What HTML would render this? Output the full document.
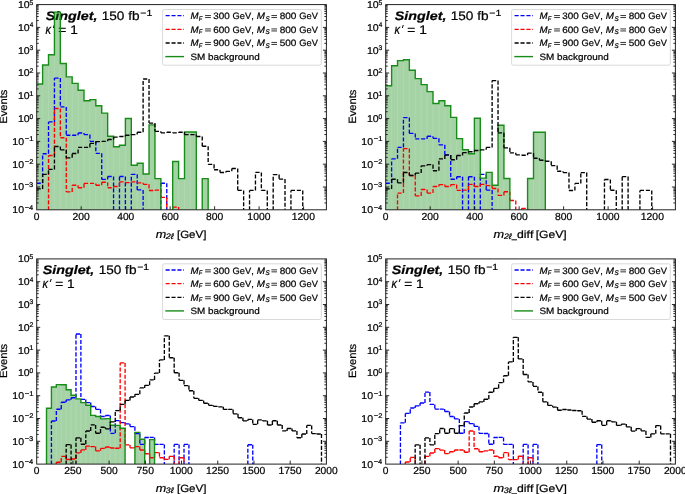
<!DOCTYPE html>
<html><head><meta charset="utf-8"><style>html,body{margin:0;padding:0;background:#fff;}body{width:685px;height:494px;overflow:hidden;font-family:"Liberation Sans",sans-serif;}svg{display:block;}text{stroke:#000;stroke-width:0.22px;text-rendering:geometricPrecision;}</style></head><body>
<svg width="685" height="494" viewBox="0 0 685 494" font-family="Liberation Sans, sans-serif" fill="#000" style="font-kerning:none;will-change:transform">
<text x="45.83" y="19.6" font-size="12.3" font-style="italic" font-weight="bold" textLength="51.6" lengthAdjust="spacingAndGlyphs">Singlet,</text>
<text x="101.76" y="19.7" font-size="12.4" textLength="37.81" lengthAdjust="spacingAndGlyphs">150 fb</text>
<text x="140.38" y="15.6" font-size="8.8" textLength="11.93" lengthAdjust="spacingAndGlyphs">−1</text>
<text x="45.62" y="34" font-size="13.3" font-style="italic" textLength="5.52" lengthAdjust="spacingAndGlyphs">κ</text>
<path d="M54.3,25L53.3,28" stroke="#000" stroke-width="1"/>
<text x="58.33" y="34" font-size="12.4" textLength="19.44" lengthAdjust="spacingAndGlyphs">= 1</text>
<clipPath id="cTL"><rect x="36.7" y="4.6" width="289.7" height="205.2"/></clipPath>
<g clip-path="url(#cTL)">
<path d="M36.7,211.8H42.61V84H36.7ZM42.61,211.8H48.52V65H42.61ZM48.52,211.8H54.44V54.8H48.52ZM54.44,211.8H60.35V12.1H54.44ZM60.35,211.8H66.26V63.5H60.35ZM66.26,211.8H72.17V76.9H66.26ZM72.17,211.8H78.09V83.4H72.17ZM78.09,211.8H84V90.2H78.09ZM84,211.8H89.91V100.7H84ZM89.91,211.8H95.82V99.6H89.91ZM95.82,211.8H101.73V105.7H95.82ZM101.73,211.8H107.65V113.1H101.73ZM107.65,211.8H113.56V136.2H107.65ZM113.56,211.8H119.47V146.8H113.56ZM119.47,211.8H125.38V145.3H119.47ZM125.38,211.8H131.3V118.5H125.38ZM131.3,211.8H137.21V165.2H131.3ZM137.21,211.8H143.12V163.2H137.21ZM143.12,211.8H149.03V174H143.12ZM149.03,211.8H154.94V124.9H149.03ZM154.94,211.8H160.86V178.6H154.94ZM172.68,211.8H178.59V161.5H172.68ZM178.59,211.8H184.51V178.6H178.59ZM184.51,211.8H190.42V132H184.51ZM190.42,211.8H196.33V132H190.42ZM202.24,211.8H208.16V178.6H202.24Z" fill="#008000" fill-opacity="0.35"/>
<path d="M42.61,209.8V85M48.52,209.8V66M54.44,209.8V55.8M60.35,209.8V64.5M66.26,209.8V77.9M72.17,209.8V84.4M78.09,209.8V91.2M84,209.8V101.7M89.91,209.8V101.7M95.82,209.8V106.7M101.73,209.8V114.1M107.65,209.8V137.2M113.56,209.8V147.8M119.47,209.8V147.8M125.38,209.8V146.3M131.3,209.8V166.2M137.21,209.8V166.2M143.12,209.8V175M149.03,209.8V175M154.94,209.8V179.6M178.59,209.8V179.6M184.51,209.8V179.6M190.42,209.8V133" stroke="#fff" stroke-opacity="0.13" stroke-width="0.8" fill="none"/>
<path d="M36.7,183.2H42.61M42.61,183.2V153.7M42.61,153.7H48.52M48.52,153.7V121.9M48.52,121.9H54.44M54.44,121.9V78.1M54.44,78.1H60.35M60.35,78.1V106.9M60.35,106.9H66.26M66.26,106.9V135.2M66.26,135.2H72.17M72.17,135.2H78.09M78.09,135.2V133M78.09,133H84M84,133V134.6M84,134.6H89.91M89.91,134.6V141.3M89.91,141.3H95.82M95.82,141.3V153.3M95.82,153.3H101.73M101.73,153.3V179.4M101.73,179.4H107.65M107.65,179.4V176.5M107.65,176.5H113.56M113.56,176.5V210.3M119.47,210.3V176.5M119.47,176.5H125.38M125.38,176.5V210.3M131.3,210.3V174.3M131.3,174.3H137.21M137.21,174.3V189.9M137.21,189.9H143.12M143.12,189.9V210.3M160.86,210.3V183.2M160.86,183.2H166.77M166.77,183.2V210.3" fill="none" stroke="#0000ff" stroke-width="1.35" stroke-dasharray="4.1 1.8"/>
<path d="M48.52,210.3V155.5M48.52,155.5H54.44M54.44,155.5V108.5M54.44,108.5H60.35M60.35,108.5V137.7M60.35,137.7H66.26M66.26,137.7V191.9M66.26,191.9H72.17M72.17,191.9V185.2M72.17,185.2H78.09M78.09,185.2V187.7M78.09,187.7H84M84,187.7V183.4M84,183.4H89.91M89.91,183.4H95.82M95.82,183.4V185.2M95.82,185.2H101.73M101.73,185.2V182.2M101.73,182.2H107.65M107.65,182.2V187.7M107.65,187.7H113.56M113.56,187.7V186.5M113.56,186.5H119.47M119.47,186.5V181.8M119.47,181.8H125.38M125.38,181.8V182.6M125.38,182.6H131.3M131.3,182.6V181.8M131.3,181.8H137.21M137.21,181.8V182.8M137.21,182.8H143.12M143.12,182.8V184.3M143.12,184.3H149.03M149.03,184.3V190.5M149.03,190.5H154.94M154.94,190.5V190.1M154.94,190.1H160.86M160.86,190.1V197.4M160.86,197.4H166.77M166.77,197.4V210.3M172.68,210.3V207.1M172.68,207.1H178.59M178.59,207.1V210.3" fill="none" stroke="#ff0000" stroke-width="1.35" stroke-dasharray="4.1 1.8"/>
<path d="M36.7,84L36.7,84L42.61,84L42.61,65L48.52,65L48.52,54.8L54.44,54.8L54.44,12.1L60.35,12.1L60.35,63.5L66.26,63.5L66.26,76.9L72.17,76.9L72.17,83.4L78.09,83.4L78.09,90.2L84,90.2L84,100.7L89.91,100.7L89.91,99.6L95.82,99.6L95.82,105.7L101.73,105.7L101.73,113.1L107.65,113.1L107.65,136.2L113.56,136.2L113.56,146.8L119.47,146.8L119.47,145.3L125.38,145.3L125.38,118.5L131.3,118.5L131.3,165.2L137.21,165.2L137.21,163.2L143.12,163.2L143.12,174L149.03,174L149.03,124.9L154.94,124.9L154.94,178.6L160.86,178.6L160.86,212.8L166.77,212.8L166.77,212.8L172.68,212.8L172.68,161.5L178.59,161.5L178.59,178.6L184.51,178.6L184.51,132L190.42,132L190.42,132L196.33,132L196.33,212.8L202.24,212.8L202.24,178.6L208.16,178.6L208.16,212.8" fill="none" stroke="#188c18" stroke-width="1.4"/>
<path d="M36.7,188.9H42.61M42.61,188.9V174.3M42.61,174.3H48.52M48.52,174.3V169.4M48.52,169.4H54.44M54.44,169.4V146.5M54.44,146.5H60.35M60.35,146.5V149.8M60.35,149.8H66.26M66.26,149.8V157.8M66.26,157.8H72.17M72.17,157.8V153.5M72.17,153.5H78.09M78.09,153.5V147.4M78.09,147.4H84M84,147.4H89.91M89.91,147.4V143.4M89.91,143.4H95.82M95.82,143.4V141.6M95.82,141.6H101.73M101.73,141.6V141.3M101.73,141.3H107.65M107.65,141.3V139.5M107.65,139.5H113.56M113.56,139.5V137.1M113.56,137.1H119.47M119.47,137.1V136.5M119.47,136.5H125.38M125.38,136.5V135.2M125.38,135.2H131.3M131.3,135.2V134.6M131.3,134.6H137.21M137.21,134.6V132.2M137.21,132.2H143.12M143.12,132.2V79M143.12,79H149.03M149.03,79V123.1M149.03,123.1H154.94M154.94,123.1V131.3M154.94,131.3H160.86M160.86,131.3V132.8M160.86,132.8H166.77M166.77,132.8V132.2M166.77,132.2H172.68M172.68,132.2V132.8M172.68,132.8H178.59M178.59,132.8V132.2M178.59,132.2H184.51M184.51,132.2V134.6M184.51,134.6H190.42M190.42,134.6H196.33M196.33,134.6V136.5M196.33,136.5H202.24M202.24,136.5V146.2M202.24,146.2H208.16M208.16,146.2V164.3M208.16,164.3H214.07M214.07,164.3V169.7M214.07,169.7H219.98M219.98,169.7V172.5M219.98,172.5H225.89M225.89,172.5V171.3M225.89,171.3H231.8M231.8,171.3V168.5M231.8,168.5H237.72M237.72,168.5V190.4M237.72,190.4H243.63M243.63,190.4V210.3M249.54,210.3V190.4M249.54,190.4H255.45M255.45,190.4V172.4M255.45,172.4H261.37M261.37,172.4V190.4M261.37,190.4H267.28M267.28,190.4V210.3M273.19,210.3V174.6M273.19,174.6H279.1M279.1,174.6V179.1M279.1,179.1H285.01M285.01,179.1V210.3M290.93,210.3V190.4M290.93,190.4H296.84M296.84,190.4H302.75M302.75,190.4V210.3" fill="none" stroke="#000000" stroke-width="1.35" stroke-dasharray="4.1 1.8"/>
</g>
<rect x="36.7" y="4.6" width="289.7" height="205.2" fill="none" stroke="#222" stroke-width="1"/>
<path d="M36.7,20.54h2M326.4,20.54h-2M36.7,16.52h2M326.4,16.52h-2M36.7,13.67h2M326.4,13.67h-2M36.7,11.46h2M326.4,11.46h-2M36.7,9.66h2M326.4,9.66h-2M36.7,8.13h2M326.4,8.13h-2M36.7,6.81h2M326.4,6.81h-2M36.7,5.64h2M326.4,5.64h-2M36.7,27.4h3.5M326.4,27.4h-3.5M36.7,43.34h2M326.4,43.34h-2M36.7,39.32h2M326.4,39.32h-2M36.7,36.47h2M326.4,36.47h-2M36.7,34.26h2M326.4,34.26h-2M36.7,32.46h2M326.4,32.46h-2M36.7,30.93h2M326.4,30.93h-2M36.7,29.61h2M326.4,29.61h-2M36.7,28.44h2M326.4,28.44h-2M36.7,50.2h3.5M326.4,50.2h-3.5M36.7,66.14h2M326.4,66.14h-2M36.7,62.12h2M326.4,62.12h-2M36.7,59.27h2M326.4,59.27h-2M36.7,57.06h2M326.4,57.06h-2M36.7,55.26h2M326.4,55.26h-2M36.7,53.73h2M326.4,53.73h-2M36.7,52.41h2M326.4,52.41h-2M36.7,51.24h2M326.4,51.24h-2M36.7,73h3.5M326.4,73h-3.5M36.7,88.94h2M326.4,88.94h-2M36.7,84.92h2M326.4,84.92h-2M36.7,82.07h2M326.4,82.07h-2M36.7,79.86h2M326.4,79.86h-2M36.7,78.06h2M326.4,78.06h-2M36.7,76.53h2M326.4,76.53h-2M36.7,75.21h2M326.4,75.21h-2M36.7,74.04h2M326.4,74.04h-2M36.7,95.8h3.5M326.4,95.8h-3.5M36.7,111.74h2M326.4,111.74h-2M36.7,107.72h2M326.4,107.72h-2M36.7,104.87h2M326.4,104.87h-2M36.7,102.66h2M326.4,102.66h-2M36.7,100.86h2M326.4,100.86h-2M36.7,99.33h2M326.4,99.33h-2M36.7,98.01h2M326.4,98.01h-2M36.7,96.84h2M326.4,96.84h-2M36.7,118.6h3.5M326.4,118.6h-3.5M36.7,134.54h2M326.4,134.54h-2M36.7,130.52h2M326.4,130.52h-2M36.7,127.67h2M326.4,127.67h-2M36.7,125.46h2M326.4,125.46h-2M36.7,123.66h2M326.4,123.66h-2M36.7,122.13h2M326.4,122.13h-2M36.7,120.81h2M326.4,120.81h-2M36.7,119.64h2M326.4,119.64h-2M36.7,141.4h3.5M326.4,141.4h-3.5M36.7,157.34h2M326.4,157.34h-2M36.7,153.32h2M326.4,153.32h-2M36.7,150.47h2M326.4,150.47h-2M36.7,148.26h2M326.4,148.26h-2M36.7,146.46h2M326.4,146.46h-2M36.7,144.93h2M326.4,144.93h-2M36.7,143.61h2M326.4,143.61h-2M36.7,142.44h2M326.4,142.44h-2M36.7,164.2h3.5M326.4,164.2h-3.5M36.7,180.14h2M326.4,180.14h-2M36.7,176.12h2M326.4,176.12h-2M36.7,173.27h2M326.4,173.27h-2M36.7,171.06h2M326.4,171.06h-2M36.7,169.26h2M326.4,169.26h-2M36.7,167.73h2M326.4,167.73h-2M36.7,166.41h2M326.4,166.41h-2M36.7,165.24h2M326.4,165.24h-2M36.7,187h3.5M326.4,187h-3.5M36.7,202.94h2M326.4,202.94h-2M36.7,198.92h2M326.4,198.92h-2M36.7,196.07h2M326.4,196.07h-2M36.7,193.86h2M326.4,193.86h-2M36.7,192.06h2M326.4,192.06h-2M36.7,190.53h2M326.4,190.53h-2M36.7,189.21h2M326.4,189.21h-2M36.7,188.04h2M326.4,188.04h-2M81.18,209.8v-3.5M125.66,209.8v-3.5M170.14,209.8v-3.5M214.62,209.8v-3.5M259.1,209.8v-3.5M303.58,209.8v-3.5" stroke="#111" stroke-width="0.9" fill="none"/>
<text x="29.53" y="4.5" font-size="6.9" textLength="3.75" lengthAdjust="spacingAndGlyphs">5</text><text x="17.9" y="8" font-size="9.9" textLength="11.71" lengthAdjust="spacingAndGlyphs">10</text>
<text x="29.65" y="27.3" font-size="6.9" textLength="3.53" lengthAdjust="spacingAndGlyphs">4</text><text x="17.9" y="30.8" font-size="9.9" textLength="11.71" lengthAdjust="spacingAndGlyphs">10</text>
<text x="29.54" y="50.1" font-size="6.9" textLength="3.75" lengthAdjust="spacingAndGlyphs">3</text><text x="17.9" y="53.6" font-size="9.9" textLength="11.71" lengthAdjust="spacingAndGlyphs">10</text>
<text x="29.45" y="72.9" font-size="6.9" textLength="3.91" lengthAdjust="spacingAndGlyphs">2</text><text x="17.9" y="76.4" font-size="9.9" textLength="11.71" lengthAdjust="spacingAndGlyphs">10</text>
<text x="29.23" y="95.7" font-size="6.9" textLength="4.13" lengthAdjust="spacingAndGlyphs">1</text><text x="17.9" y="99.2" font-size="9.9" textLength="11.71" lengthAdjust="spacingAndGlyphs">10</text>
<text x="29.54" y="118.5" font-size="6.9" textLength="3.72" lengthAdjust="spacingAndGlyphs">0</text><text x="17.9" y="122" font-size="9.9" textLength="11.71" lengthAdjust="spacingAndGlyphs">10</text>
<text x="24.73" y="141.3" font-size="6.9" textLength="8.64" lengthAdjust="spacingAndGlyphs">−1</text><text x="12.3" y="144.8" font-size="9.9" textLength="11.71" lengthAdjust="spacingAndGlyphs">10</text>
<text x="24.73" y="164.1" font-size="6.9" textLength="8.66" lengthAdjust="spacingAndGlyphs">−2</text><text x="12.3" y="167.6" font-size="9.9" textLength="11.71" lengthAdjust="spacingAndGlyphs">10</text>
<text x="24.73" y="186.9" font-size="6.9" textLength="8.6" lengthAdjust="spacingAndGlyphs">−3</text><text x="12.3" y="190.4" font-size="9.9" textLength="11.71" lengthAdjust="spacingAndGlyphs">10</text>
<text x="24.73" y="209.7" font-size="6.9" textLength="8.49" lengthAdjust="spacingAndGlyphs">−4</text><text x="12.3" y="213.2" font-size="9.9" textLength="11.71" lengthAdjust="spacingAndGlyphs">10</text>
<text x="33.85" y="219.8" font-size="10.2" textLength="5.7" lengthAdjust="spacingAndGlyphs">0</text>
<text x="72.46" y="219.8" font-size="10.2" textLength="17.33" lengthAdjust="spacingAndGlyphs">200</text>
<text x="117.23" y="219.8" font-size="10.2" textLength="17.03" lengthAdjust="spacingAndGlyphs">400</text>
<text x="161.41" y="219.8" font-size="10.2" textLength="17.33" lengthAdjust="spacingAndGlyphs">600</text>
<text x="205.97" y="219.8" font-size="10.2" textLength="17.25" lengthAdjust="spacingAndGlyphs">800</text>
<text x="247.36" y="219.8" font-size="10.2" textLength="23.1" lengthAdjust="spacingAndGlyphs">1000</text>
<text x="291.84" y="219.8" font-size="10.2" textLength="23.1" lengthAdjust="spacingAndGlyphs">1200</text>
<text transform="rotate(-90)" x="-123.72" y="7.3" font-size="10.6" textLength="34.12" lengthAdjust="spacingAndGlyphs">Events</text>
<rect x="162.6" y="9.5" width="158.7" height="55.7" rx="1.6" fill="#fff" fill-opacity="0.8" stroke="#d0d0d0" stroke-width="0.8"/>
<path d="M165.6,15.7H184" stroke="#0000ff" stroke-width="1.3" stroke-dasharray="4.1 1.8"/>
<text x="190.5" y="19.4" font-size="9.3" font-style="italic" textLength="8.1" lengthAdjust="spacingAndGlyphs">M</text>
<text x="198.82" y="20.7" font-size="6.7" font-style="italic" textLength="3.51" lengthAdjust="spacingAndGlyphs">F</text>
<path d="M205.1,15.55H210.9M205.1,17.55H210.9" stroke="#111" stroke-width="0.85"/>
<text x="213.32" y="19.4" font-size="9.2" textLength="16.46" lengthAdjust="spacingAndGlyphs">300</text>
<text x="232.53" y="19.4" font-size="9.2" textLength="21.2" lengthAdjust="spacingAndGlyphs">GeV,</text>
<text x="256.8" y="19.4" font-size="9.3" font-style="italic" textLength="8.2" lengthAdjust="spacingAndGlyphs">M</text>
<text x="265.42" y="20.7" font-size="6.7" font-style="italic" textLength="4.14" lengthAdjust="spacingAndGlyphs">S</text>
<path d="M271.4,15.55H277M271.4,17.55H277" stroke="#111" stroke-width="0.85"/>
<text x="279.66" y="19.4" font-size="9.2" textLength="16.73" lengthAdjust="spacingAndGlyphs">800</text>
<text x="299.33" y="19.4" font-size="9.2" textLength="18.61" lengthAdjust="spacingAndGlyphs">GeV</text>
<path d="M165.6,29.3H184" stroke="#ff0000" stroke-width="1.3" stroke-dasharray="4.1 1.8"/>
<text x="190.5" y="32.8" font-size="9.3" font-style="italic" textLength="8.1" lengthAdjust="spacingAndGlyphs">M</text>
<text x="198.82" y="34.1" font-size="6.7" font-style="italic" textLength="3.51" lengthAdjust="spacingAndGlyphs">F</text>
<path d="M205.1,28.95H210.9M205.1,30.95H210.9" stroke="#111" stroke-width="0.85"/>
<text x="213.19" y="32.8" font-size="9.2" textLength="16.59" lengthAdjust="spacingAndGlyphs">600</text>
<text x="232.53" y="32.8" font-size="9.2" textLength="21.2" lengthAdjust="spacingAndGlyphs">GeV,</text>
<text x="256.8" y="32.8" font-size="9.3" font-style="italic" textLength="8.2" lengthAdjust="spacingAndGlyphs">M</text>
<text x="265.42" y="34.1" font-size="6.7" font-style="italic" textLength="4.14" lengthAdjust="spacingAndGlyphs">S</text>
<path d="M271.4,28.95H277M271.4,30.95H277" stroke="#111" stroke-width="0.85"/>
<text x="279.66" y="32.8" font-size="9.2" textLength="16.73" lengthAdjust="spacingAndGlyphs">800</text>
<text x="299.33" y="32.8" font-size="9.2" textLength="18.61" lengthAdjust="spacingAndGlyphs">GeV</text>
<path d="M165.6,43H184" stroke="#000000" stroke-width="1.3" stroke-dasharray="4.1 1.8"/>
<text x="190.5" y="46.3" font-size="9.3" font-style="italic" textLength="8.1" lengthAdjust="spacingAndGlyphs">M</text>
<text x="198.82" y="47.6" font-size="6.7" font-style="italic" textLength="3.51" lengthAdjust="spacingAndGlyphs">F</text>
<path d="M205.1,42.45H210.9M205.1,44.45H210.9" stroke="#111" stroke-width="0.85"/>
<text x="213.23" y="46.3" font-size="9.2" textLength="16.55" lengthAdjust="spacingAndGlyphs">900</text>
<text x="232.53" y="46.3" font-size="9.2" textLength="21.2" lengthAdjust="spacingAndGlyphs">GeV,</text>
<text x="256.8" y="46.3" font-size="9.3" font-style="italic" textLength="8.2" lengthAdjust="spacingAndGlyphs">M</text>
<text x="265.42" y="47.6" font-size="6.7" font-style="italic" textLength="4.14" lengthAdjust="spacingAndGlyphs">S</text>
<path d="M271.4,42.45H277M271.4,44.45H277" stroke="#111" stroke-width="0.85"/>
<text x="279.7" y="46.3" font-size="9.2" textLength="16.69" lengthAdjust="spacingAndGlyphs">500</text>
<text x="299.33" y="46.3" font-size="9.2" textLength="18.61" lengthAdjust="spacingAndGlyphs">GeV</text>
<path d="M165.3,56.6H184" stroke="#188c18" stroke-width="1.4"/>
<text x="190.45" y="59.6" font-size="9.2" textLength="69.39" lengthAdjust="spacingAndGlyphs">SM background</text>
<text x="155.89" y="237.8" font-size="11.2" font-style="italic" textLength="10.49" lengthAdjust="spacingAndGlyphs">m</text><text x="165.85" y="239.2" font-size="8" font-style="italic" textLength="7.93" lengthAdjust="spacingAndGlyphs">2ℓ</text><text x="176.98" y="237.8" font-size="10.5" textLength="29.44" lengthAdjust="spacingAndGlyphs">[GeV]</text>
<text x="394.83" y="19.6" font-size="12.3" font-style="italic" font-weight="bold" textLength="51.6" lengthAdjust="spacingAndGlyphs">Singlet,</text>
<text x="450.76" y="19.7" font-size="12.4" textLength="37.81" lengthAdjust="spacingAndGlyphs">150 fb</text>
<text x="489.38" y="15.6" font-size="8.8" textLength="11.93" lengthAdjust="spacingAndGlyphs">−1</text>
<text x="394.62" y="34" font-size="13.3" font-style="italic" textLength="5.52" lengthAdjust="spacingAndGlyphs">κ</text>
<path d="M403.3,25L402.3,28" stroke="#000" stroke-width="1"/>
<text x="407.33" y="34" font-size="12.4" textLength="19.44" lengthAdjust="spacingAndGlyphs">= 1</text>
<clipPath id="cTR"><rect x="385.7" y="4.6" width="289.7" height="205.2"/></clipPath>
<g clip-path="url(#cTR)">
<path d="M385.7,211.8H391.61V85.8H385.7ZM391.61,211.8H397.52V65.8H391.61ZM397.52,211.8H403.44V60.6H397.52ZM403.44,211.8H409.35V59.7H403.44ZM409.35,211.8H415.26V70.3H409.35ZM415.26,211.8H421.17V78.6H415.26ZM421.17,211.8H427.09V84.6H421.17ZM427.09,211.8H433V91.6H427.09ZM433,211.8H438.91V103.5H433ZM438.91,211.8H444.82V100.7H438.91ZM444.82,211.8H450.73V105.7H444.82ZM450.73,211.8H456.65V117.4H450.73ZM456.65,211.8H462.56V138.6H456.65ZM462.56,211.8H468.47V149.8H462.56ZM468.47,211.8H474.38V153.8H468.47ZM474.38,211.8H480.3V118.2H474.38ZM480.3,211.8H486.21V178.1H480.3ZM486.21,211.8H492.12V172.4H486.21ZM492.12,211.8H498.03V185.2H492.12ZM498.03,211.8H503.94V125.3H498.03ZM503.94,211.8H509.86V178.5H503.94ZM527.59,211.8H533.51V178.5H527.59ZM533.51,211.8H539.42V132.2H533.51ZM539.42,211.8H545.33V132.2H539.42Z" fill="#008000" fill-opacity="0.35"/>
<path d="M391.61,209.8V86.8M397.52,209.8V66.8M403.44,209.8V61.6M409.35,209.8V71.3M415.26,209.8V79.6M421.17,209.8V85.6M427.09,209.8V92.6M433,209.8V104.5M438.91,209.8V104.5M444.82,209.8V106.7M450.73,209.8V118.4M456.65,209.8V139.6M462.56,209.8V150.8M468.47,209.8V154.8M474.38,209.8V154.8M480.3,209.8V179.1M486.21,209.8V179.1M492.12,209.8V186.2M498.03,209.8V186.2M503.94,209.8V179.5M533.51,209.8V179.5M539.42,209.8V133.2" stroke="#fff" stroke-opacity="0.13" stroke-width="0.8" fill="none"/>
<path d="M385.7,183.2H391.61M391.61,183.2V158.8M391.61,158.8H397.52M397.52,158.8V147.4M397.52,147.4H403.44M403.44,147.4V117.6M403.44,117.6H409.35M409.35,117.6V133.4M409.35,133.4H415.26M415.26,133.4V138.9M415.26,138.9H421.17M421.17,138.9H427.09M427.09,138.9V136.2M427.09,136.2H433M433,136.2V138.3M433,138.3H438.91M438.91,138.3V144.8M438.91,144.8H444.82M444.82,144.8V155.1M444.82,155.1H450.73M450.73,155.1V179.2M450.73,179.2H456.65M456.65,179.2V176.7M456.65,176.7H462.56M462.56,176.7V210.3M468.47,210.3V176.7M468.47,176.7H474.38M474.38,176.7V210.3M480.3,210.3V174.3M480.3,174.3H486.21M486.21,174.3V190.1M486.21,190.1H492.12M492.12,190.1V210.3" fill="none" stroke="#0000ff" stroke-width="1.35" stroke-dasharray="4.1 1.8"/>
<path d="M397.52,210.3V193.1M397.52,193.1H403.44M403.44,193.1V148.6M403.44,148.6H409.35M409.35,148.6V175.5M409.35,175.5H415.26M415.26,175.5V195.9M415.26,195.9H421.17M421.17,195.9V189.5M421.17,189.5H427.09M427.09,189.5V193.1M427.09,193.1H433M433,193.1V186.5M433,186.5H438.91M438.91,186.5V184.6M438.91,184.6H444.82M444.82,184.6V186.5M444.82,186.5H450.73M450.73,186.5V184.6M450.73,184.6H456.65M456.65,184.6V190.3M456.65,190.3H462.56M462.56,190.3V190.1M462.56,190.1H468.47M468.47,190.1V184.4M468.47,184.4H474.38M474.38,184.4V186.5M474.38,186.5H480.3M480.3,186.5V184.4M480.3,184.4H486.21M486.21,184.4V185.6M486.21,185.6H492.12M492.12,185.6V188.5M492.12,188.5H498.03M498.03,188.5V195.4M498.03,195.4H503.94M503.94,195.4V191.7M503.94,191.7H509.86M509.86,191.7V200.5M509.86,200.5H515.77M515.77,200.5V210.3M521.68,210.3V208.3M521.68,208.3H527.59M527.59,208.3V210.3" fill="none" stroke="#ff0000" stroke-width="1.35" stroke-dasharray="4.1 1.8"/>
<path d="M385.7,85.8L385.7,85.8L391.61,85.8L391.61,65.8L397.52,65.8L397.52,60.6L403.44,60.6L403.44,59.7L409.35,59.7L409.35,70.3L415.26,70.3L415.26,78.6L421.17,78.6L421.17,84.6L427.09,84.6L427.09,91.6L433,91.6L433,103.5L438.91,103.5L438.91,100.7L444.82,100.7L444.82,105.7L450.73,105.7L450.73,117.4L456.65,117.4L456.65,138.6L462.56,138.6L462.56,149.8L468.47,149.8L468.47,153.8L474.38,153.8L474.38,118.2L480.3,118.2L480.3,178.1L486.21,178.1L486.21,172.4L492.12,172.4L492.12,185.2L498.03,185.2L498.03,125.3L503.94,125.3L503.94,178.5L509.86,178.5L509.86,212.8L515.77,212.8L515.77,212.8L521.68,212.8L521.68,212.8L527.59,212.8L527.59,178.5L533.51,178.5L533.51,132.2L539.42,132.2L539.42,132.2L545.33,132.2L545.33,212.8" fill="none" stroke="#188c18" stroke-width="1.4"/>
<path d="M385.7,188.9H391.61M391.61,188.9V179.2M391.61,179.2H397.52M397.52,179.2V182.8M397.52,182.8H403.44M403.44,182.8V172.5M403.44,172.5H409.35M409.35,172.5V175.5M409.35,175.5H415.26M415.26,175.5V173.1M415.26,173.1H421.17M421.17,173.1V165.8M421.17,165.8H427.09M427.09,165.8V164.6M427.09,164.6H433M433,164.6V170.7M433,170.7H438.91M438.91,170.7V158.9M438.91,158.9H444.82M444.82,158.9V154.9M444.82,154.9H450.73M450.73,154.9V159.7M450.73,159.7H456.65M456.65,159.7V155.5M456.65,155.5H462.56M462.56,155.5V152.6M462.56,152.6H468.47M468.47,152.6V151.7M468.47,151.7H474.38M474.38,151.7V150.5M474.38,150.5H480.3M480.3,150.5V149.8M480.3,149.8H486.21M486.21,149.8V147.4M486.21,147.4H492.12M492.12,147.4V80.6M492.12,80.6H498.03M498.03,80.6V132.8M498.03,132.8H503.94M503.94,132.8V147.8M503.94,147.8H509.86M509.86,147.8V152.8M509.86,152.8H515.77M515.77,152.8V154.8M515.77,154.8H521.68M521.68,154.8V155.2M521.68,155.2H527.59M527.59,155.2V153.1M527.59,153.1H533.51M533.51,153.1V158.2M533.51,158.2H539.42M539.42,158.2V160.2M539.42,160.2H545.33M545.33,160.2V161.2M545.33,161.2H551.24M551.24,161.2V165.6M551.24,165.6H557.16M557.16,165.6V171.2M557.16,171.2H563.07M563.07,171.2V172.6M563.07,172.6H568.98M568.98,172.6V190.5M568.98,190.5H574.89M574.89,190.5V183.4M574.89,183.4H580.8M580.8,183.4V172.6M580.8,172.6H586.72M586.72,172.6V210.3M604.45,210.3V179.5M604.45,179.5H610.37M610.37,179.5V190.2M610.37,190.2H616.28M616.28,190.2V210.3M622.19,210.3V176.6M622.19,176.6H628.1M628.1,176.6V210.3M639.93,210.3V190.4M639.93,190.4H645.84M645.84,190.4H651.75M651.75,190.4V210.3" fill="none" stroke="#000000" stroke-width="1.35" stroke-dasharray="4.1 1.8"/>
</g>
<rect x="385.7" y="4.6" width="289.7" height="205.2" fill="none" stroke="#222" stroke-width="1"/>
<path d="M385.7,20.54h2M675.4,20.54h-2M385.7,16.52h2M675.4,16.52h-2M385.7,13.67h2M675.4,13.67h-2M385.7,11.46h2M675.4,11.46h-2M385.7,9.66h2M675.4,9.66h-2M385.7,8.13h2M675.4,8.13h-2M385.7,6.81h2M675.4,6.81h-2M385.7,5.64h2M675.4,5.64h-2M385.7,27.4h3.5M675.4,27.4h-3.5M385.7,43.34h2M675.4,43.34h-2M385.7,39.32h2M675.4,39.32h-2M385.7,36.47h2M675.4,36.47h-2M385.7,34.26h2M675.4,34.26h-2M385.7,32.46h2M675.4,32.46h-2M385.7,30.93h2M675.4,30.93h-2M385.7,29.61h2M675.4,29.61h-2M385.7,28.44h2M675.4,28.44h-2M385.7,50.2h3.5M675.4,50.2h-3.5M385.7,66.14h2M675.4,66.14h-2M385.7,62.12h2M675.4,62.12h-2M385.7,59.27h2M675.4,59.27h-2M385.7,57.06h2M675.4,57.06h-2M385.7,55.26h2M675.4,55.26h-2M385.7,53.73h2M675.4,53.73h-2M385.7,52.41h2M675.4,52.41h-2M385.7,51.24h2M675.4,51.24h-2M385.7,73h3.5M675.4,73h-3.5M385.7,88.94h2M675.4,88.94h-2M385.7,84.92h2M675.4,84.92h-2M385.7,82.07h2M675.4,82.07h-2M385.7,79.86h2M675.4,79.86h-2M385.7,78.06h2M675.4,78.06h-2M385.7,76.53h2M675.4,76.53h-2M385.7,75.21h2M675.4,75.21h-2M385.7,74.04h2M675.4,74.04h-2M385.7,95.8h3.5M675.4,95.8h-3.5M385.7,111.74h2M675.4,111.74h-2M385.7,107.72h2M675.4,107.72h-2M385.7,104.87h2M675.4,104.87h-2M385.7,102.66h2M675.4,102.66h-2M385.7,100.86h2M675.4,100.86h-2M385.7,99.33h2M675.4,99.33h-2M385.7,98.01h2M675.4,98.01h-2M385.7,96.84h2M675.4,96.84h-2M385.7,118.6h3.5M675.4,118.6h-3.5M385.7,134.54h2M675.4,134.54h-2M385.7,130.52h2M675.4,130.52h-2M385.7,127.67h2M675.4,127.67h-2M385.7,125.46h2M675.4,125.46h-2M385.7,123.66h2M675.4,123.66h-2M385.7,122.13h2M675.4,122.13h-2M385.7,120.81h2M675.4,120.81h-2M385.7,119.64h2M675.4,119.64h-2M385.7,141.4h3.5M675.4,141.4h-3.5M385.7,157.34h2M675.4,157.34h-2M385.7,153.32h2M675.4,153.32h-2M385.7,150.47h2M675.4,150.47h-2M385.7,148.26h2M675.4,148.26h-2M385.7,146.46h2M675.4,146.46h-2M385.7,144.93h2M675.4,144.93h-2M385.7,143.61h2M675.4,143.61h-2M385.7,142.44h2M675.4,142.44h-2M385.7,164.2h3.5M675.4,164.2h-3.5M385.7,180.14h2M675.4,180.14h-2M385.7,176.12h2M675.4,176.12h-2M385.7,173.27h2M675.4,173.27h-2M385.7,171.06h2M675.4,171.06h-2M385.7,169.26h2M675.4,169.26h-2M385.7,167.73h2M675.4,167.73h-2M385.7,166.41h2M675.4,166.41h-2M385.7,165.24h2M675.4,165.24h-2M385.7,187h3.5M675.4,187h-3.5M385.7,202.94h2M675.4,202.94h-2M385.7,198.92h2M675.4,198.92h-2M385.7,196.07h2M675.4,196.07h-2M385.7,193.86h2M675.4,193.86h-2M385.7,192.06h2M675.4,192.06h-2M385.7,190.53h2M675.4,190.53h-2M385.7,189.21h2M675.4,189.21h-2M385.7,188.04h2M675.4,188.04h-2M430.18,209.8v-3.5M474.66,209.8v-3.5M519.14,209.8v-3.5M563.62,209.8v-3.5M608.1,209.8v-3.5M652.58,209.8v-3.5" stroke="#111" stroke-width="0.9" fill="none"/>
<text x="378.53" y="4.5" font-size="6.9" textLength="3.75" lengthAdjust="spacingAndGlyphs">5</text><text x="366.9" y="8" font-size="9.9" textLength="11.71" lengthAdjust="spacingAndGlyphs">10</text>
<text x="378.65" y="27.3" font-size="6.9" textLength="3.53" lengthAdjust="spacingAndGlyphs">4</text><text x="366.9" y="30.8" font-size="9.9" textLength="11.71" lengthAdjust="spacingAndGlyphs">10</text>
<text x="378.54" y="50.1" font-size="6.9" textLength="3.75" lengthAdjust="spacingAndGlyphs">3</text><text x="366.9" y="53.6" font-size="9.9" textLength="11.71" lengthAdjust="spacingAndGlyphs">10</text>
<text x="378.45" y="72.9" font-size="6.9" textLength="3.91" lengthAdjust="spacingAndGlyphs">2</text><text x="366.9" y="76.4" font-size="9.9" textLength="11.71" lengthAdjust="spacingAndGlyphs">10</text>
<text x="378.23" y="95.7" font-size="6.9" textLength="4.13" lengthAdjust="spacingAndGlyphs">1</text><text x="366.9" y="99.2" font-size="9.9" textLength="11.71" lengthAdjust="spacingAndGlyphs">10</text>
<text x="378.54" y="118.5" font-size="6.9" textLength="3.72" lengthAdjust="spacingAndGlyphs">0</text><text x="366.9" y="122" font-size="9.9" textLength="11.71" lengthAdjust="spacingAndGlyphs">10</text>
<text x="373.73" y="141.3" font-size="6.9" textLength="8.64" lengthAdjust="spacingAndGlyphs">−1</text><text x="361.3" y="144.8" font-size="9.9" textLength="11.71" lengthAdjust="spacingAndGlyphs">10</text>
<text x="373.73" y="164.1" font-size="6.9" textLength="8.66" lengthAdjust="spacingAndGlyphs">−2</text><text x="361.3" y="167.6" font-size="9.9" textLength="11.71" lengthAdjust="spacingAndGlyphs">10</text>
<text x="373.73" y="186.9" font-size="6.9" textLength="8.6" lengthAdjust="spacingAndGlyphs">−3</text><text x="361.3" y="190.4" font-size="9.9" textLength="11.71" lengthAdjust="spacingAndGlyphs">10</text>
<text x="373.73" y="209.7" font-size="6.9" textLength="8.49" lengthAdjust="spacingAndGlyphs">−4</text><text x="361.3" y="213.2" font-size="9.9" textLength="11.71" lengthAdjust="spacingAndGlyphs">10</text>
<text x="382.85" y="219.8" font-size="10.2" textLength="5.7" lengthAdjust="spacingAndGlyphs">0</text>
<text x="421.46" y="219.8" font-size="10.2" textLength="17.33" lengthAdjust="spacingAndGlyphs">200</text>
<text x="466.23" y="219.8" font-size="10.2" textLength="17.03" lengthAdjust="spacingAndGlyphs">400</text>
<text x="510.41" y="219.8" font-size="10.2" textLength="17.33" lengthAdjust="spacingAndGlyphs">600</text>
<text x="554.97" y="219.8" font-size="10.2" textLength="17.25" lengthAdjust="spacingAndGlyphs">800</text>
<text x="596.36" y="219.8" font-size="10.2" textLength="23.1" lengthAdjust="spacingAndGlyphs">1000</text>
<text x="640.84" y="219.8" font-size="10.2" textLength="23.1" lengthAdjust="spacingAndGlyphs">1200</text>
<text transform="rotate(-90)" x="-123.72" y="356.3" font-size="10.6" textLength="34.12" lengthAdjust="spacingAndGlyphs">Events</text>
<rect x="511.6" y="9.5" width="158.7" height="55.7" rx="1.6" fill="#fff" fill-opacity="0.8" stroke="#d0d0d0" stroke-width="0.8"/>
<path d="M514.6,15.7H533" stroke="#0000ff" stroke-width="1.3" stroke-dasharray="4.1 1.8"/>
<text x="539.5" y="19.4" font-size="9.3" font-style="italic" textLength="8.1" lengthAdjust="spacingAndGlyphs">M</text>
<text x="547.82" y="20.7" font-size="6.7" font-style="italic" textLength="3.51" lengthAdjust="spacingAndGlyphs">F</text>
<path d="M554.1,15.55H559.9M554.1,17.55H559.9" stroke="#111" stroke-width="0.85"/>
<text x="562.32" y="19.4" font-size="9.2" textLength="16.46" lengthAdjust="spacingAndGlyphs">300</text>
<text x="581.53" y="19.4" font-size="9.2" textLength="21.2" lengthAdjust="spacingAndGlyphs">GeV,</text>
<text x="605.8" y="19.4" font-size="9.3" font-style="italic" textLength="8.2" lengthAdjust="spacingAndGlyphs">M</text>
<text x="614.42" y="20.7" font-size="6.7" font-style="italic" textLength="4.14" lengthAdjust="spacingAndGlyphs">S</text>
<path d="M620.4,15.55H626M620.4,17.55H626" stroke="#111" stroke-width="0.85"/>
<text x="628.66" y="19.4" font-size="9.2" textLength="16.73" lengthAdjust="spacingAndGlyphs">800</text>
<text x="648.33" y="19.4" font-size="9.2" textLength="18.61" lengthAdjust="spacingAndGlyphs">GeV</text>
<path d="M514.6,29.3H533" stroke="#ff0000" stroke-width="1.3" stroke-dasharray="4.1 1.8"/>
<text x="539.5" y="32.8" font-size="9.3" font-style="italic" textLength="8.1" lengthAdjust="spacingAndGlyphs">M</text>
<text x="547.82" y="34.1" font-size="6.7" font-style="italic" textLength="3.51" lengthAdjust="spacingAndGlyphs">F</text>
<path d="M554.1,28.95H559.9M554.1,30.95H559.9" stroke="#111" stroke-width="0.85"/>
<text x="562.19" y="32.8" font-size="9.2" textLength="16.59" lengthAdjust="spacingAndGlyphs">600</text>
<text x="581.53" y="32.8" font-size="9.2" textLength="21.2" lengthAdjust="spacingAndGlyphs">GeV,</text>
<text x="605.8" y="32.8" font-size="9.3" font-style="italic" textLength="8.2" lengthAdjust="spacingAndGlyphs">M</text>
<text x="614.42" y="34.1" font-size="6.7" font-style="italic" textLength="4.14" lengthAdjust="spacingAndGlyphs">S</text>
<path d="M620.4,28.95H626M620.4,30.95H626" stroke="#111" stroke-width="0.85"/>
<text x="628.66" y="32.8" font-size="9.2" textLength="16.73" lengthAdjust="spacingAndGlyphs">800</text>
<text x="648.33" y="32.8" font-size="9.2" textLength="18.61" lengthAdjust="spacingAndGlyphs">GeV</text>
<path d="M514.6,43H533" stroke="#000000" stroke-width="1.3" stroke-dasharray="4.1 1.8"/>
<text x="539.5" y="46.3" font-size="9.3" font-style="italic" textLength="8.1" lengthAdjust="spacingAndGlyphs">M</text>
<text x="547.82" y="47.6" font-size="6.7" font-style="italic" textLength="3.51" lengthAdjust="spacingAndGlyphs">F</text>
<path d="M554.1,42.45H559.9M554.1,44.45H559.9" stroke="#111" stroke-width="0.85"/>
<text x="562.23" y="46.3" font-size="9.2" textLength="16.55" lengthAdjust="spacingAndGlyphs">900</text>
<text x="581.53" y="46.3" font-size="9.2" textLength="21.2" lengthAdjust="spacingAndGlyphs">GeV,</text>
<text x="605.8" y="46.3" font-size="9.3" font-style="italic" textLength="8.2" lengthAdjust="spacingAndGlyphs">M</text>
<text x="614.42" y="47.6" font-size="6.7" font-style="italic" textLength="4.14" lengthAdjust="spacingAndGlyphs">S</text>
<path d="M620.4,42.45H626M620.4,44.45H626" stroke="#111" stroke-width="0.85"/>
<text x="628.7" y="46.3" font-size="9.2" textLength="16.69" lengthAdjust="spacingAndGlyphs">500</text>
<text x="648.33" y="46.3" font-size="9.2" textLength="18.61" lengthAdjust="spacingAndGlyphs">GeV</text>
<path d="M514.3,56.6H533" stroke="#188c18" stroke-width="1.4"/>
<text x="539.45" y="59.6" font-size="9.2" textLength="69.39" lengthAdjust="spacingAndGlyphs">SM background</text>
<text x="493.59" y="237.8" font-size="11.2" font-style="italic" textLength="10.6" lengthAdjust="spacingAndGlyphs">m</text><text x="503.95" y="239.2" font-size="8" font-style="italic" textLength="7.64" lengthAdjust="spacingAndGlyphs">2ℓ</text><text x="511.74" y="237.8" font-size="10.5" textLength="5.06" lengthAdjust="spacingAndGlyphs">_</text><text x="517.09" y="237.8" font-size="10.5" textLength="16.3" lengthAdjust="spacingAndGlyphs">diff</text><text x="535.74" y="237.8" font-size="10.5" textLength="30.92" lengthAdjust="spacingAndGlyphs">[GeV]</text>
<text x="42.73" y="273.6" font-size="12.3" font-style="italic" font-weight="bold" textLength="51.6" lengthAdjust="spacingAndGlyphs">Singlet,</text>
<text x="98.66" y="273.7" font-size="12.4" textLength="37.81" lengthAdjust="spacingAndGlyphs">150 fb</text>
<text x="137.28" y="269.6" font-size="8.8" textLength="11.93" lengthAdjust="spacingAndGlyphs">−1</text>
<text x="42.52" y="288" font-size="13.3" font-style="italic" textLength="5.52" lengthAdjust="spacingAndGlyphs">κ</text>
<path d="M51.2,279L50.2,282" stroke="#000" stroke-width="1"/>
<text x="55.23" y="288" font-size="12.4" textLength="19.44" lengthAdjust="spacingAndGlyphs">= 1</text>
<clipPath id="cBL"><rect x="36.7" y="258.9" width="289.7" height="205.2"/></clipPath>
<g clip-path="url(#cBL)">
<path d="M46.52,466.1H51.43V408.3H46.52ZM51.43,466.1H56.34V387H51.43ZM56.34,466.1H61.25V384.6H56.34ZM61.25,466.1H66.16V384.8H61.25ZM66.16,466.1H71.07V389.7H66.16ZM71.07,466.1H75.98V395.3H71.07ZM75.98,466.1H80.89V398.9H75.98ZM80.89,466.1H85.8V402.6H80.89ZM85.8,466.1H90.71V405.2H85.8ZM90.71,466.1H95.62V415.4H90.71ZM95.62,466.1H100.53V416.5H95.62ZM100.53,466.1H105.44V418.9H100.53ZM105.44,466.1H110.35V418.6H105.44ZM110.35,466.1H115.26V425.2H110.35ZM115.26,466.1H120.17V425.4H115.26ZM120.17,466.1H125.08V428.3H120.17ZM134.9,466.1H139.81V432.4H134.9ZM139.81,466.1H144.72V439.3H139.81ZM149.63,466.1H154.54V439.6H149.63Z" fill="#008000" fill-opacity="0.35"/>
<path d="M51.43,464.1V409.3M56.34,464.1V388M61.25,464.1V385.8M66.16,464.1V390.7M71.07,464.1V396.3M75.98,464.1V399.9M80.89,464.1V403.6M85.8,464.1V406.2M90.71,464.1V416.4M95.62,464.1V417.5M100.53,464.1V419.9M105.44,464.1V419.9M110.35,464.1V426.2M115.26,464.1V426.4M120.17,464.1V429.3M139.81,464.1V440.3" stroke="#fff" stroke-opacity="0.13" stroke-width="0.8" fill="none"/>
<path d="M51.43,464.6V421M51.43,421H56.34M56.34,421V409.2M56.34,409.2H61.25M61.25,409.2V402.2M61.25,402.2H66.16M66.16,402.2V399.8M66.16,399.8H71.07M71.07,399.8V397.7M71.07,397.7H75.98M75.98,397.7V334M75.98,334H80.89M80.89,334V399.4M80.89,399.4H85.8M85.8,399.4V402.6M85.8,402.6H90.71M90.71,402.6V406.5M90.71,406.5H95.62M95.62,406.5V409.3M95.62,409.3H100.53M100.53,409.3V416.5M100.53,416.5H105.44M105.44,416.5V415.5M105.44,415.5H110.35M110.35,415.5V433.3M110.35,433.3H115.26M115.26,433.3V420.6M115.26,420.6H120.17M120.17,420.6V422.6M120.17,422.6H125.08M125.08,422.6V423.8M125.08,423.8H129.99M129.99,423.8V426.6M129.99,426.6H134.9M134.9,426.6V433.5M134.9,433.5H139.81M139.81,433.5V444.4M139.81,444.4H144.72M144.72,444.4V437.5M144.72,437.5H149.63M149.63,437.5V437.4M149.63,437.4H154.54M154.54,437.4V444.4M154.54,444.4H159.45M159.45,444.4H164.36M164.36,444.4V464.6M174.18,464.6V444.4M174.18,444.4H179.09M179.09,444.4V464.6M184.01,464.6V444.4M184.01,444.4H188.92M188.92,444.4V464.6M247.84,464.6V444.7M247.84,444.7H252.75M252.75,444.7V464.6" fill="none" stroke="#0000ff" stroke-width="1.35" stroke-dasharray="4.1 1.8"/>
<path d="M56.34,464.6V462.2M56.34,462.2H61.25M61.25,462.2V456.3M61.25,456.3H66.16M66.16,456.3V459.5M66.16,459.5H71.07M71.07,459.5V459M71.07,459H75.98M75.98,459V452.9M75.98,452.9H80.89M80.89,452.9V449.9M80.89,449.9H85.8M85.8,449.9V446.1M85.8,446.1H90.71M90.71,446.1V446.6M90.71,446.6H95.62M95.62,446.6V450.8M95.62,450.8H100.53M100.53,450.8V448.4M100.53,448.4H105.44M105.44,448.4V447M105.44,447H110.35M110.35,447V448M110.35,448H115.26M115.26,448V448.2M115.26,448.2H120.17M120.17,448.2V362.9M120.17,362.9H125.08M125.08,362.9V444.9M125.08,444.9H129.99M129.99,444.9V447.8M129.99,447.8H134.9M134.9,447.8V446.6M134.9,446.6H139.81M139.81,446.6V450M139.81,450H144.72M144.72,450V453.7M144.72,453.7H149.63M149.63,453.7V457.7M149.63,457.7H154.54M154.54,457.7V452.6M154.54,452.6H159.45M159.45,452.6V457.7M159.45,457.7H164.36M164.36,457.7V459.3M164.36,459.3H169.27M169.27,459.3V456.3M169.27,456.3H174.18M174.18,456.3V464.6M179.09,464.6V457.7M179.09,457.7H184.01M184.01,457.7V464.6" fill="none" stroke="#ff0000" stroke-width="1.35" stroke-dasharray="4.1 1.8"/>
<path d="M46.52,467.1L46.52,408.3L51.43,408.3L51.43,387L56.34,387L56.34,384.6L61.25,384.6L61.25,384.8L66.16,384.8L66.16,389.7L71.07,389.7L71.07,395.3L75.98,395.3L75.98,398.9L80.89,398.9L80.89,402.6L85.8,402.6L85.8,405.2L90.71,405.2L90.71,415.4L95.62,415.4L95.62,416.5L100.53,416.5L100.53,418.9L105.44,418.9L105.44,418.6L110.35,418.6L110.35,425.2L115.26,425.2L115.26,425.4L120.17,425.4L120.17,428.3L125.08,428.3L125.08,467.1L129.99,467.1L129.99,467.1L134.9,467.1L134.9,432.4L139.81,432.4L139.81,439.3L144.72,439.3L144.72,467.1L149.63,467.1L149.63,439.6L154.54,439.6L154.54,467.1" fill="none" stroke="#188c18" stroke-width="1.4"/>
<path d="M66.16,464.6V444.6M66.16,444.6H71.07M71.07,444.6V464.6M75.98,464.6V437.8M75.98,437.8H80.89M80.89,437.8V444.2M80.89,444.2H85.8M85.8,444.2V431M85.8,431H90.71M90.71,431V424.9M90.71,424.9H95.62M95.62,424.9V433.2M95.62,433.2H100.53M100.53,433.2V427.2M100.53,427.2H105.44M105.44,427.2V428.8M105.44,428.8H110.35M110.35,428.8V421.9M110.35,421.9H115.26M115.26,421.9V410.6M115.26,410.6H120.17M120.17,410.6V404.3M120.17,404.3H125.08M125.08,404.3V400.4M125.08,400.4H129.99M129.99,400.4V397M129.99,397H134.9M134.9,397V394.3M134.9,394.3H139.81M139.81,394.3V387.9M139.81,387.9H144.72M144.72,387.9V385.3M144.72,385.3H149.63M149.63,385.3V379.9M149.63,379.9H154.54M154.54,379.9V373.1M154.54,373.1H159.45M159.45,373.1V359.9M159.45,359.9H164.36M164.36,359.9V335.8M164.36,335.8H169.27M169.27,335.8V357.7M169.27,357.7H174.18M174.18,357.7V372.7M174.18,372.7H179.09M179.09,372.7V380.3M179.09,380.3H184.01M184.01,380.3V385.6M184.01,385.6H188.92M188.92,385.6V390.7M188.92,390.7H193.83M193.83,390.7V398.3M193.83,398.3H198.74M198.74,398.3V400.4M198.74,400.4H203.65M203.65,400.4V403.2M203.65,403.2H208.56M208.56,403.2V405.3M208.56,405.3H213.47M213.47,405.3V406.4M213.47,406.4H218.38M218.38,406.4V406.8M218.38,406.8H223.29M223.29,406.8V409.4M223.29,409.4H228.2M228.2,409.4H233.11M233.11,409.4V413.8M233.11,413.8H238.02M238.02,413.8V417.7M238.02,417.7H242.93M242.93,417.7V420.9M242.93,420.9H247.84M247.84,420.9V419.4M247.84,419.4H252.75M252.75,419.4V424.3M252.75,424.3H257.66M257.66,424.3V419.9M257.66,419.9H262.57M262.57,419.9V420.8M262.57,420.8H267.48M267.48,420.8V425M267.48,425H272.39M272.39,425V420.7M272.39,420.7H277.3M277.3,420.7V425M277.3,425H282.21M282.21,425V430.9M282.21,430.9H287.12M287.12,430.9V428.5M287.12,428.5H292.03M292.03,428.5V430.9M292.03,430.9H296.94M296.94,430.9V437.7M296.94,437.7H301.85M301.85,437.7V434M301.85,434H306.76M306.76,434V425.4M306.76,425.4H311.67M311.67,425.4V433.6M311.67,433.6H316.58M316.58,433.6V434M316.58,434H321.49M321.49,434V464.6" fill="none" stroke="#000000" stroke-width="1.35" stroke-dasharray="4.1 1.8"/>
</g>
<rect x="36.7" y="258.9" width="289.7" height="205.2" fill="none" stroke="#222" stroke-width="1"/>
<path d="M36.7,274.84h2M326.4,274.84h-2M36.7,270.82h2M326.4,270.82h-2M36.7,267.97h2M326.4,267.97h-2M36.7,265.76h2M326.4,265.76h-2M36.7,263.96h2M326.4,263.96h-2M36.7,262.43h2M326.4,262.43h-2M36.7,261.11h2M326.4,261.11h-2M36.7,259.94h2M326.4,259.94h-2M36.7,281.7h3.5M326.4,281.7h-3.5M36.7,297.64h2M326.4,297.64h-2M36.7,293.62h2M326.4,293.62h-2M36.7,290.77h2M326.4,290.77h-2M36.7,288.56h2M326.4,288.56h-2M36.7,286.76h2M326.4,286.76h-2M36.7,285.23h2M326.4,285.23h-2M36.7,283.91h2M326.4,283.91h-2M36.7,282.74h2M326.4,282.74h-2M36.7,304.5h3.5M326.4,304.5h-3.5M36.7,320.44h2M326.4,320.44h-2M36.7,316.42h2M326.4,316.42h-2M36.7,313.57h2M326.4,313.57h-2M36.7,311.36h2M326.4,311.36h-2M36.7,309.56h2M326.4,309.56h-2M36.7,308.03h2M326.4,308.03h-2M36.7,306.71h2M326.4,306.71h-2M36.7,305.54h2M326.4,305.54h-2M36.7,327.3h3.5M326.4,327.3h-3.5M36.7,343.24h2M326.4,343.24h-2M36.7,339.22h2M326.4,339.22h-2M36.7,336.37h2M326.4,336.37h-2M36.7,334.16h2M326.4,334.16h-2M36.7,332.36h2M326.4,332.36h-2M36.7,330.83h2M326.4,330.83h-2M36.7,329.51h2M326.4,329.51h-2M36.7,328.34h2M326.4,328.34h-2M36.7,350.1h3.5M326.4,350.1h-3.5M36.7,366.04h2M326.4,366.04h-2M36.7,362.02h2M326.4,362.02h-2M36.7,359.17h2M326.4,359.17h-2M36.7,356.96h2M326.4,356.96h-2M36.7,355.16h2M326.4,355.16h-2M36.7,353.63h2M326.4,353.63h-2M36.7,352.31h2M326.4,352.31h-2M36.7,351.14h2M326.4,351.14h-2M36.7,372.9h3.5M326.4,372.9h-3.5M36.7,388.84h2M326.4,388.84h-2M36.7,384.82h2M326.4,384.82h-2M36.7,381.97h2M326.4,381.97h-2M36.7,379.76h2M326.4,379.76h-2M36.7,377.96h2M326.4,377.96h-2M36.7,376.43h2M326.4,376.43h-2M36.7,375.11h2M326.4,375.11h-2M36.7,373.94h2M326.4,373.94h-2M36.7,395.7h3.5M326.4,395.7h-3.5M36.7,411.64h2M326.4,411.64h-2M36.7,407.62h2M326.4,407.62h-2M36.7,404.77h2M326.4,404.77h-2M36.7,402.56h2M326.4,402.56h-2M36.7,400.76h2M326.4,400.76h-2M36.7,399.23h2M326.4,399.23h-2M36.7,397.91h2M326.4,397.91h-2M36.7,396.74h2M326.4,396.74h-2M36.7,418.5h3.5M326.4,418.5h-3.5M36.7,434.44h2M326.4,434.44h-2M36.7,430.42h2M326.4,430.42h-2M36.7,427.57h2M326.4,427.57h-2M36.7,425.36h2M326.4,425.36h-2M36.7,423.56h2M326.4,423.56h-2M36.7,422.03h2M326.4,422.03h-2M36.7,420.71h2M326.4,420.71h-2M36.7,419.54h2M326.4,419.54h-2M36.7,441.3h3.5M326.4,441.3h-3.5M36.7,457.24h2M326.4,457.24h-2M36.7,453.22h2M326.4,453.22h-2M36.7,450.37h2M326.4,450.37h-2M36.7,448.16h2M326.4,448.16h-2M36.7,446.36h2M326.4,446.36h-2M36.7,444.83h2M326.4,444.83h-2M36.7,443.51h2M326.4,443.51h-2M36.7,442.34h2M326.4,442.34h-2M72.91,464.1v-3.5M109.12,464.1v-3.5M145.34,464.1v-3.5M181.55,464.1v-3.5M217.76,464.1v-3.5M253.98,464.1v-3.5M290.19,464.1v-3.5" stroke="#111" stroke-width="0.9" fill="none"/>
<text x="29.53" y="258.8" font-size="6.9" textLength="3.75" lengthAdjust="spacingAndGlyphs">5</text><text x="17.9" y="262.3" font-size="9.9" textLength="11.71" lengthAdjust="spacingAndGlyphs">10</text>
<text x="29.65" y="281.6" font-size="6.9" textLength="3.53" lengthAdjust="spacingAndGlyphs">4</text><text x="17.9" y="285.1" font-size="9.9" textLength="11.71" lengthAdjust="spacingAndGlyphs">10</text>
<text x="29.54" y="304.4" font-size="6.9" textLength="3.75" lengthAdjust="spacingAndGlyphs">3</text><text x="17.9" y="307.9" font-size="9.9" textLength="11.71" lengthAdjust="spacingAndGlyphs">10</text>
<text x="29.45" y="327.2" font-size="6.9" textLength="3.91" lengthAdjust="spacingAndGlyphs">2</text><text x="17.9" y="330.7" font-size="9.9" textLength="11.71" lengthAdjust="spacingAndGlyphs">10</text>
<text x="29.23" y="350" font-size="6.9" textLength="4.13" lengthAdjust="spacingAndGlyphs">1</text><text x="17.9" y="353.5" font-size="9.9" textLength="11.71" lengthAdjust="spacingAndGlyphs">10</text>
<text x="29.54" y="372.8" font-size="6.9" textLength="3.72" lengthAdjust="spacingAndGlyphs">0</text><text x="17.9" y="376.3" font-size="9.9" textLength="11.71" lengthAdjust="spacingAndGlyphs">10</text>
<text x="24.73" y="395.6" font-size="6.9" textLength="8.64" lengthAdjust="spacingAndGlyphs">−1</text><text x="12.3" y="399.1" font-size="9.9" textLength="11.71" lengthAdjust="spacingAndGlyphs">10</text>
<text x="24.73" y="418.4" font-size="6.9" textLength="8.66" lengthAdjust="spacingAndGlyphs">−2</text><text x="12.3" y="421.9" font-size="9.9" textLength="11.71" lengthAdjust="spacingAndGlyphs">10</text>
<text x="24.73" y="441.2" font-size="6.9" textLength="8.6" lengthAdjust="spacingAndGlyphs">−3</text><text x="12.3" y="444.7" font-size="9.9" textLength="11.71" lengthAdjust="spacingAndGlyphs">10</text>
<text x="24.73" y="464" font-size="6.9" textLength="8.49" lengthAdjust="spacingAndGlyphs">−4</text><text x="12.3" y="467.5" font-size="9.9" textLength="11.71" lengthAdjust="spacingAndGlyphs">10</text>
<text x="33.85" y="474.1" font-size="10.2" textLength="5.7" lengthAdjust="spacingAndGlyphs">0</text>
<text x="64.19" y="474.1" font-size="10.2" textLength="17.33" lengthAdjust="spacingAndGlyphs">250</text>
<text x="100.51" y="474.1" font-size="10.2" textLength="17.22" lengthAdjust="spacingAndGlyphs">500</text>
<text x="136.6" y="474.1" font-size="10.2" textLength="17.34" lengthAdjust="spacingAndGlyphs">750</text>
<text x="169.81" y="474.1" font-size="10.2" textLength="23.1" lengthAdjust="spacingAndGlyphs">1000</text>
<text x="206.02" y="474.1" font-size="10.2" textLength="23.1" lengthAdjust="spacingAndGlyphs">1250</text>
<text x="242.23" y="474.1" font-size="10.2" textLength="23.1" lengthAdjust="spacingAndGlyphs">1500</text>
<text x="278.45" y="474.1" font-size="10.2" textLength="23.1" lengthAdjust="spacingAndGlyphs">1750</text>
<text x="314.93" y="474.1" font-size="10.2" textLength="22.82" lengthAdjust="spacingAndGlyphs">2000</text>
<text transform="rotate(-90)" x="-378.02" y="7.3" font-size="10.6" textLength="34.12" lengthAdjust="spacingAndGlyphs">Events</text>
<rect x="162.6" y="263.8" width="158.7" height="55.7" rx="1.6" fill="#fff" fill-opacity="0.8" stroke="#d0d0d0" stroke-width="0.8"/>
<path d="M165.6,270H184" stroke="#0000ff" stroke-width="1.3" stroke-dasharray="4.1 1.8"/>
<text x="190.5" y="273.7" font-size="9.3" font-style="italic" textLength="8.1" lengthAdjust="spacingAndGlyphs">M</text>
<text x="198.82" y="275" font-size="6.7" font-style="italic" textLength="3.51" lengthAdjust="spacingAndGlyphs">F</text>
<path d="M205.1,269.85H210.9M205.1,271.85H210.9" stroke="#111" stroke-width="0.85"/>
<text x="213.32" y="273.7" font-size="9.2" textLength="16.46" lengthAdjust="spacingAndGlyphs">300</text>
<text x="232.53" y="273.7" font-size="9.2" textLength="21.2" lengthAdjust="spacingAndGlyphs">GeV,</text>
<text x="256.8" y="273.7" font-size="9.3" font-style="italic" textLength="8.2" lengthAdjust="spacingAndGlyphs">M</text>
<text x="265.42" y="275" font-size="6.7" font-style="italic" textLength="4.14" lengthAdjust="spacingAndGlyphs">S</text>
<path d="M271.4,269.85H277M271.4,271.85H277" stroke="#111" stroke-width="0.85"/>
<text x="279.66" y="273.7" font-size="9.2" textLength="16.73" lengthAdjust="spacingAndGlyphs">800</text>
<text x="299.33" y="273.7" font-size="9.2" textLength="18.61" lengthAdjust="spacingAndGlyphs">GeV</text>
<path d="M165.6,283.6H184" stroke="#ff0000" stroke-width="1.3" stroke-dasharray="4.1 1.8"/>
<text x="190.5" y="287.1" font-size="9.3" font-style="italic" textLength="8.1" lengthAdjust="spacingAndGlyphs">M</text>
<text x="198.82" y="288.4" font-size="6.7" font-style="italic" textLength="3.51" lengthAdjust="spacingAndGlyphs">F</text>
<path d="M205.1,283.25H210.9M205.1,285.25H210.9" stroke="#111" stroke-width="0.85"/>
<text x="213.19" y="287.1" font-size="9.2" textLength="16.59" lengthAdjust="spacingAndGlyphs">600</text>
<text x="232.53" y="287.1" font-size="9.2" textLength="21.2" lengthAdjust="spacingAndGlyphs">GeV,</text>
<text x="256.8" y="287.1" font-size="9.3" font-style="italic" textLength="8.2" lengthAdjust="spacingAndGlyphs">M</text>
<text x="265.42" y="288.4" font-size="6.7" font-style="italic" textLength="4.14" lengthAdjust="spacingAndGlyphs">S</text>
<path d="M271.4,283.25H277M271.4,285.25H277" stroke="#111" stroke-width="0.85"/>
<text x="279.66" y="287.1" font-size="9.2" textLength="16.73" lengthAdjust="spacingAndGlyphs">800</text>
<text x="299.33" y="287.1" font-size="9.2" textLength="18.61" lengthAdjust="spacingAndGlyphs">GeV</text>
<path d="M165.6,297.3H184" stroke="#000000" stroke-width="1.3" stroke-dasharray="4.1 1.8"/>
<text x="190.5" y="300.6" font-size="9.3" font-style="italic" textLength="8.1" lengthAdjust="spacingAndGlyphs">M</text>
<text x="198.82" y="301.9" font-size="6.7" font-style="italic" textLength="3.51" lengthAdjust="spacingAndGlyphs">F</text>
<path d="M205.1,296.75H210.9M205.1,298.75H210.9" stroke="#111" stroke-width="0.85"/>
<text x="213.23" y="300.6" font-size="9.2" textLength="16.55" lengthAdjust="spacingAndGlyphs">900</text>
<text x="232.53" y="300.6" font-size="9.2" textLength="21.2" lengthAdjust="spacingAndGlyphs">GeV,</text>
<text x="256.8" y="300.6" font-size="9.3" font-style="italic" textLength="8.2" lengthAdjust="spacingAndGlyphs">M</text>
<text x="265.42" y="301.9" font-size="6.7" font-style="italic" textLength="4.14" lengthAdjust="spacingAndGlyphs">S</text>
<path d="M271.4,296.75H277M271.4,298.75H277" stroke="#111" stroke-width="0.85"/>
<text x="279.7" y="300.6" font-size="9.2" textLength="16.69" lengthAdjust="spacingAndGlyphs">500</text>
<text x="299.33" y="300.6" font-size="9.2" textLength="18.61" lengthAdjust="spacingAndGlyphs">GeV</text>
<path d="M165.3,310.9H184" stroke="#188c18" stroke-width="1.4"/>
<text x="190.45" y="313.9" font-size="9.2" textLength="69.39" lengthAdjust="spacingAndGlyphs">SM background</text>
<text x="155.89" y="491.5" font-size="11.2" font-style="italic" textLength="10.49" lengthAdjust="spacingAndGlyphs">m</text><text x="165.89" y="492.9" font-size="8" font-style="italic" textLength="7.69" lengthAdjust="spacingAndGlyphs">3ℓ</text><text x="176.98" y="491.5" font-size="10.5" textLength="29.44" lengthAdjust="spacingAndGlyphs">[GeV]</text>
<text x="391.73" y="273.6" font-size="12.3" font-style="italic" font-weight="bold" textLength="51.6" lengthAdjust="spacingAndGlyphs">Singlet,</text>
<text x="447.66" y="273.7" font-size="12.4" textLength="37.81" lengthAdjust="spacingAndGlyphs">150 fb</text>
<text x="486.28" y="269.6" font-size="8.8" textLength="11.93" lengthAdjust="spacingAndGlyphs">−1</text>
<text x="391.52" y="288" font-size="13.3" font-style="italic" textLength="5.52" lengthAdjust="spacingAndGlyphs">κ</text>
<path d="M400.2,279L399.2,282" stroke="#000" stroke-width="1"/>
<text x="404.23" y="288" font-size="12.4" textLength="19.44" lengthAdjust="spacingAndGlyphs">= 1</text>
<clipPath id="cBR"><rect x="385.7" y="258.9" width="289.7" height="205.2"/></clipPath>
<g clip-path="url(#cBR)">
<path d="" fill="#008000" fill-opacity="0.35"/>
<path d="" stroke="#fff" stroke-opacity="0.13" stroke-width="0.8" fill="none"/>
<path d="M400.43,464.6V422.8M400.43,422.8H405.34M405.34,422.8V413.4M405.34,413.4H410.25M410.25,413.4V408M410.25,408H415.16M415.16,408V405.8M415.16,405.8H420.07M420.07,405.8V403M420.07,403H424.98M424.98,403V392.1M424.98,392.1H429.89M429.89,392.1V404.4M429.89,404.4H434.8M434.8,404.4V409.1M434.8,409.1H439.71M439.71,409.1H444.62M444.62,409.1V411.5M444.62,411.5H449.53M449.53,411.5V416.5M449.53,416.5H454.44M454.44,416.5V418.9M454.44,418.9H459.35M459.35,418.9V433.2M459.35,433.2H464.26M464.26,433.2V421.6M464.26,421.6H469.17M469.17,421.6V423.6M469.17,423.6H474.08M474.08,423.6V426.4M474.08,426.4H478.99M478.99,426.4V433.3M478.99,433.3H483.9M483.9,433.3V433.5M483.9,433.5H488.81M488.81,433.5V444.2M488.81,444.2H493.72M493.72,444.2V437.5M493.72,437.5H498.63M498.63,437.5V437.4M498.63,437.4H503.54M503.54,437.4V444.4M503.54,444.4H508.45M508.45,444.4H513.36M513.36,444.4V464.6M523.18,464.6V444.4M523.18,444.4H528.09M528.09,444.4V464.6M533.01,464.6V444.4M533.01,444.4H537.92M537.92,444.4V464.6M596.84,464.6V444.6M596.84,444.6H601.75M601.75,444.6V464.6" fill="none" stroke="#0000ff" stroke-width="1.35" stroke-dasharray="4.1 1.8"/>
<path d="M405.34,464.6V462M405.34,462H410.25M410.25,462V457.4M410.25,457.4H415.16M415.16,457.4V464.6M424.98,464.6V456.3M424.98,456.3H429.89M429.89,456.3V453M429.89,453H434.8M434.8,453V448.6M434.8,448.6H439.71M439.71,448.6V450.1M439.71,450.1H444.62M444.62,450.1V453.6M444.62,453.6H449.53M449.53,453.6V451.7M449.53,451.7H454.44M454.44,451.7V450M454.44,450H459.35M459.35,450H464.26M464.26,450V452.2M464.26,452.2H469.17M469.17,452.2V431M469.17,431H474.08M474.08,431V448.7M474.08,448.7H478.99M478.99,448.7V451.7M478.99,451.7H483.9M483.9,451.7V450.8M483.9,450.8H488.81M488.81,450.8V450M488.81,450H493.72M493.72,450V456.2M493.72,456.2H498.63M498.63,456.2V457.7M498.63,457.7H503.54M503.54,457.7V452.6M503.54,452.6H508.45M508.45,452.6V459.6M508.45,459.6H513.36M513.36,459.6H518.27M518.27,459.6V456.2M518.27,456.2H523.18M523.18,456.2V464.6M528.09,464.6V457.7M528.09,457.7H533.01M533.01,457.7V464.6" fill="none" stroke="#ff0000" stroke-width="1.35" stroke-dasharray="4.1 1.8"/>
<path d="" fill="none" stroke="#188c18" stroke-width="1.4"/>
<path d="M415.16,464.6V444.8M415.16,444.8H420.07M420.07,444.8V464.6M424.98,464.6V437.9M424.98,437.9H429.89M429.89,437.9V444.8M429.89,444.8H434.8M434.8,444.8V433.6M434.8,433.6H439.71M439.71,433.6V428.5M439.71,428.5H444.62M444.62,428.5V433.2M444.62,433.2H449.53M449.53,433.2V428.6M449.53,428.6H454.44M454.44,428.6V433.2M454.44,433.2H459.35M459.35,433.2V425.6M459.35,425.6H464.26M464.26,425.6V413M464.26,413H469.17M469.17,413V407M469.17,407H474.08M474.08,407V403.7M474.08,403.7H478.99M478.99,403.7V401.9M478.99,401.9H483.9M483.9,401.9V399.2M483.9,399.2H488.81M488.81,399.2V392.2M488.81,392.2H493.72M493.72,392.2V388.4M493.72,388.4H498.63M498.63,388.4V382.6M498.63,382.6H503.54M503.54,382.6V375.7M503.54,375.7H508.45M508.45,375.7V361.9M508.45,361.9H513.36M513.36,361.9V337.3M513.36,337.3H518.27M518.27,337.3V358.9M518.27,358.9H523.18M523.18,358.9V374.5M523.18,374.5H528.09M528.09,374.5V381.9M528.09,381.9H533.01M533.01,381.9V386.4M533.01,386.4H537.92M537.92,386.4V392.2M537.92,392.2H542.83M542.83,392.2V401.8M542.83,401.8H547.74M547.74,401.8V405.4M547.74,405.4H552.65M552.65,405.4V407.1M552.65,407.1H557.56M557.56,407.1V410.2M557.56,410.2H562.47M562.47,410.2V409.5M562.47,409.5H567.38M567.38,409.5V410M567.38,410H572.29M572.29,410V410.5M572.29,410.5H577.2M577.2,410.5V410.7M577.2,410.7H582.11M582.11,410.7V416.4M582.11,416.4H587.02M587.02,416.4V419.1M587.02,419.1H591.93M591.93,419.1V422.2M591.93,422.2H596.84M596.84,422.2V420.7M596.84,420.7H601.75M601.75,420.7V425.3M601.75,425.3H606.66M606.66,425.3V420.7M606.66,420.7H611.57M611.57,420.7V421.8M611.57,421.8H616.48M616.48,421.8V425.4M616.48,425.4H621.39M621.39,425.4V424.1M621.39,424.1H626.3M626.3,424.1V426.8M626.3,426.8H631.21M631.21,426.8V431.1M631.21,431.1H636.12M636.12,431.1V428.6M636.12,428.6H641.03M641.03,428.6V430.8M641.03,430.8H645.94M645.94,430.8V437.4M645.94,437.4H650.85M650.85,437.4V433.8M650.85,433.8H655.76M655.76,433.8V425.6M655.76,425.6H660.67M660.67,425.6V433.8M660.67,433.8H665.58M665.58,433.8H670.49M670.49,433.8V464.6" fill="none" stroke="#000000" stroke-width="1.35" stroke-dasharray="4.1 1.8"/>
</g>
<rect x="385.7" y="258.9" width="289.7" height="205.2" fill="none" stroke="#222" stroke-width="1"/>
<path d="M385.7,274.84h2M675.4,274.84h-2M385.7,270.82h2M675.4,270.82h-2M385.7,267.97h2M675.4,267.97h-2M385.7,265.76h2M675.4,265.76h-2M385.7,263.96h2M675.4,263.96h-2M385.7,262.43h2M675.4,262.43h-2M385.7,261.11h2M675.4,261.11h-2M385.7,259.94h2M675.4,259.94h-2M385.7,281.7h3.5M675.4,281.7h-3.5M385.7,297.64h2M675.4,297.64h-2M385.7,293.62h2M675.4,293.62h-2M385.7,290.77h2M675.4,290.77h-2M385.7,288.56h2M675.4,288.56h-2M385.7,286.76h2M675.4,286.76h-2M385.7,285.23h2M675.4,285.23h-2M385.7,283.91h2M675.4,283.91h-2M385.7,282.74h2M675.4,282.74h-2M385.7,304.5h3.5M675.4,304.5h-3.5M385.7,320.44h2M675.4,320.44h-2M385.7,316.42h2M675.4,316.42h-2M385.7,313.57h2M675.4,313.57h-2M385.7,311.36h2M675.4,311.36h-2M385.7,309.56h2M675.4,309.56h-2M385.7,308.03h2M675.4,308.03h-2M385.7,306.71h2M675.4,306.71h-2M385.7,305.54h2M675.4,305.54h-2M385.7,327.3h3.5M675.4,327.3h-3.5M385.7,343.24h2M675.4,343.24h-2M385.7,339.22h2M675.4,339.22h-2M385.7,336.37h2M675.4,336.37h-2M385.7,334.16h2M675.4,334.16h-2M385.7,332.36h2M675.4,332.36h-2M385.7,330.83h2M675.4,330.83h-2M385.7,329.51h2M675.4,329.51h-2M385.7,328.34h2M675.4,328.34h-2M385.7,350.1h3.5M675.4,350.1h-3.5M385.7,366.04h2M675.4,366.04h-2M385.7,362.02h2M675.4,362.02h-2M385.7,359.17h2M675.4,359.17h-2M385.7,356.96h2M675.4,356.96h-2M385.7,355.16h2M675.4,355.16h-2M385.7,353.63h2M675.4,353.63h-2M385.7,352.31h2M675.4,352.31h-2M385.7,351.14h2M675.4,351.14h-2M385.7,372.9h3.5M675.4,372.9h-3.5M385.7,388.84h2M675.4,388.84h-2M385.7,384.82h2M675.4,384.82h-2M385.7,381.97h2M675.4,381.97h-2M385.7,379.76h2M675.4,379.76h-2M385.7,377.96h2M675.4,377.96h-2M385.7,376.43h2M675.4,376.43h-2M385.7,375.11h2M675.4,375.11h-2M385.7,373.94h2M675.4,373.94h-2M385.7,395.7h3.5M675.4,395.7h-3.5M385.7,411.64h2M675.4,411.64h-2M385.7,407.62h2M675.4,407.62h-2M385.7,404.77h2M675.4,404.77h-2M385.7,402.56h2M675.4,402.56h-2M385.7,400.76h2M675.4,400.76h-2M385.7,399.23h2M675.4,399.23h-2M385.7,397.91h2M675.4,397.91h-2M385.7,396.74h2M675.4,396.74h-2M385.7,418.5h3.5M675.4,418.5h-3.5M385.7,434.44h2M675.4,434.44h-2M385.7,430.42h2M675.4,430.42h-2M385.7,427.57h2M675.4,427.57h-2M385.7,425.36h2M675.4,425.36h-2M385.7,423.56h2M675.4,423.56h-2M385.7,422.03h2M675.4,422.03h-2M385.7,420.71h2M675.4,420.71h-2M385.7,419.54h2M675.4,419.54h-2M385.7,441.3h3.5M675.4,441.3h-3.5M385.7,457.24h2M675.4,457.24h-2M385.7,453.22h2M675.4,453.22h-2M385.7,450.37h2M675.4,450.37h-2M385.7,448.16h2M675.4,448.16h-2M385.7,446.36h2M675.4,446.36h-2M385.7,444.83h2M675.4,444.83h-2M385.7,443.51h2M675.4,443.51h-2M385.7,442.34h2M675.4,442.34h-2M421.91,464.1v-3.5M458.12,464.1v-3.5M494.34,464.1v-3.5M530.55,464.1v-3.5M566.76,464.1v-3.5M602.98,464.1v-3.5M639.19,464.1v-3.5" stroke="#111" stroke-width="0.9" fill="none"/>
<text x="378.53" y="258.8" font-size="6.9" textLength="3.75" lengthAdjust="spacingAndGlyphs">5</text><text x="366.9" y="262.3" font-size="9.9" textLength="11.71" lengthAdjust="spacingAndGlyphs">10</text>
<text x="378.65" y="281.6" font-size="6.9" textLength="3.53" lengthAdjust="spacingAndGlyphs">4</text><text x="366.9" y="285.1" font-size="9.9" textLength="11.71" lengthAdjust="spacingAndGlyphs">10</text>
<text x="378.54" y="304.4" font-size="6.9" textLength="3.75" lengthAdjust="spacingAndGlyphs">3</text><text x="366.9" y="307.9" font-size="9.9" textLength="11.71" lengthAdjust="spacingAndGlyphs">10</text>
<text x="378.45" y="327.2" font-size="6.9" textLength="3.91" lengthAdjust="spacingAndGlyphs">2</text><text x="366.9" y="330.7" font-size="9.9" textLength="11.71" lengthAdjust="spacingAndGlyphs">10</text>
<text x="378.23" y="350" font-size="6.9" textLength="4.13" lengthAdjust="spacingAndGlyphs">1</text><text x="366.9" y="353.5" font-size="9.9" textLength="11.71" lengthAdjust="spacingAndGlyphs">10</text>
<text x="378.54" y="372.8" font-size="6.9" textLength="3.72" lengthAdjust="spacingAndGlyphs">0</text><text x="366.9" y="376.3" font-size="9.9" textLength="11.71" lengthAdjust="spacingAndGlyphs">10</text>
<text x="373.73" y="395.6" font-size="6.9" textLength="8.64" lengthAdjust="spacingAndGlyphs">−1</text><text x="361.3" y="399.1" font-size="9.9" textLength="11.71" lengthAdjust="spacingAndGlyphs">10</text>
<text x="373.73" y="418.4" font-size="6.9" textLength="8.66" lengthAdjust="spacingAndGlyphs">−2</text><text x="361.3" y="421.9" font-size="9.9" textLength="11.71" lengthAdjust="spacingAndGlyphs">10</text>
<text x="373.73" y="441.2" font-size="6.9" textLength="8.6" lengthAdjust="spacingAndGlyphs">−3</text><text x="361.3" y="444.7" font-size="9.9" textLength="11.71" lengthAdjust="spacingAndGlyphs">10</text>
<text x="373.73" y="464" font-size="6.9" textLength="8.49" lengthAdjust="spacingAndGlyphs">−4</text><text x="361.3" y="467.5" font-size="9.9" textLength="11.71" lengthAdjust="spacingAndGlyphs">10</text>
<text x="382.85" y="474.1" font-size="10.2" textLength="5.7" lengthAdjust="spacingAndGlyphs">0</text>
<text x="413.19" y="474.1" font-size="10.2" textLength="17.33" lengthAdjust="spacingAndGlyphs">250</text>
<text x="449.51" y="474.1" font-size="10.2" textLength="17.22" lengthAdjust="spacingAndGlyphs">500</text>
<text x="485.6" y="474.1" font-size="10.2" textLength="17.34" lengthAdjust="spacingAndGlyphs">750</text>
<text x="518.81" y="474.1" font-size="10.2" textLength="23.1" lengthAdjust="spacingAndGlyphs">1000</text>
<text x="555.02" y="474.1" font-size="10.2" textLength="23.1" lengthAdjust="spacingAndGlyphs">1250</text>
<text x="591.23" y="474.1" font-size="10.2" textLength="23.1" lengthAdjust="spacingAndGlyphs">1500</text>
<text x="627.45" y="474.1" font-size="10.2" textLength="23.1" lengthAdjust="spacingAndGlyphs">1750</text>
<text x="663.93" y="474.1" font-size="10.2" textLength="22.82" lengthAdjust="spacingAndGlyphs">2000</text>
<text transform="rotate(-90)" x="-378.02" y="356.3" font-size="10.6" textLength="34.12" lengthAdjust="spacingAndGlyphs">Events</text>
<rect x="511.6" y="263.8" width="158.7" height="55.7" rx="1.6" fill="#fff" fill-opacity="0.8" stroke="#d0d0d0" stroke-width="0.8"/>
<path d="M514.6,270H533" stroke="#0000ff" stroke-width="1.3" stroke-dasharray="4.1 1.8"/>
<text x="539.5" y="273.7" font-size="9.3" font-style="italic" textLength="8.1" lengthAdjust="spacingAndGlyphs">M</text>
<text x="547.82" y="275" font-size="6.7" font-style="italic" textLength="3.51" lengthAdjust="spacingAndGlyphs">F</text>
<path d="M554.1,269.85H559.9M554.1,271.85H559.9" stroke="#111" stroke-width="0.85"/>
<text x="562.32" y="273.7" font-size="9.2" textLength="16.46" lengthAdjust="spacingAndGlyphs">300</text>
<text x="581.53" y="273.7" font-size="9.2" textLength="21.2" lengthAdjust="spacingAndGlyphs">GeV,</text>
<text x="605.8" y="273.7" font-size="9.3" font-style="italic" textLength="8.2" lengthAdjust="spacingAndGlyphs">M</text>
<text x="614.42" y="275" font-size="6.7" font-style="italic" textLength="4.14" lengthAdjust="spacingAndGlyphs">S</text>
<path d="M620.4,269.85H626M620.4,271.85H626" stroke="#111" stroke-width="0.85"/>
<text x="628.66" y="273.7" font-size="9.2" textLength="16.73" lengthAdjust="spacingAndGlyphs">800</text>
<text x="648.33" y="273.7" font-size="9.2" textLength="18.61" lengthAdjust="spacingAndGlyphs">GeV</text>
<path d="M514.6,283.6H533" stroke="#ff0000" stroke-width="1.3" stroke-dasharray="4.1 1.8"/>
<text x="539.5" y="287.1" font-size="9.3" font-style="italic" textLength="8.1" lengthAdjust="spacingAndGlyphs">M</text>
<text x="547.82" y="288.4" font-size="6.7" font-style="italic" textLength="3.51" lengthAdjust="spacingAndGlyphs">F</text>
<path d="M554.1,283.25H559.9M554.1,285.25H559.9" stroke="#111" stroke-width="0.85"/>
<text x="562.19" y="287.1" font-size="9.2" textLength="16.59" lengthAdjust="spacingAndGlyphs">600</text>
<text x="581.53" y="287.1" font-size="9.2" textLength="21.2" lengthAdjust="spacingAndGlyphs">GeV,</text>
<text x="605.8" y="287.1" font-size="9.3" font-style="italic" textLength="8.2" lengthAdjust="spacingAndGlyphs">M</text>
<text x="614.42" y="288.4" font-size="6.7" font-style="italic" textLength="4.14" lengthAdjust="spacingAndGlyphs">S</text>
<path d="M620.4,283.25H626M620.4,285.25H626" stroke="#111" stroke-width="0.85"/>
<text x="628.66" y="287.1" font-size="9.2" textLength="16.73" lengthAdjust="spacingAndGlyphs">800</text>
<text x="648.33" y="287.1" font-size="9.2" textLength="18.61" lengthAdjust="spacingAndGlyphs">GeV</text>
<path d="M514.6,297.3H533" stroke="#000000" stroke-width="1.3" stroke-dasharray="4.1 1.8"/>
<text x="539.5" y="300.6" font-size="9.3" font-style="italic" textLength="8.1" lengthAdjust="spacingAndGlyphs">M</text>
<text x="547.82" y="301.9" font-size="6.7" font-style="italic" textLength="3.51" lengthAdjust="spacingAndGlyphs">F</text>
<path d="M554.1,296.75H559.9M554.1,298.75H559.9" stroke="#111" stroke-width="0.85"/>
<text x="562.23" y="300.6" font-size="9.2" textLength="16.55" lengthAdjust="spacingAndGlyphs">900</text>
<text x="581.53" y="300.6" font-size="9.2" textLength="21.2" lengthAdjust="spacingAndGlyphs">GeV,</text>
<text x="605.8" y="300.6" font-size="9.3" font-style="italic" textLength="8.2" lengthAdjust="spacingAndGlyphs">M</text>
<text x="614.42" y="301.9" font-size="6.7" font-style="italic" textLength="4.14" lengthAdjust="spacingAndGlyphs">S</text>
<path d="M620.4,296.75H626M620.4,298.75H626" stroke="#111" stroke-width="0.85"/>
<text x="628.7" y="300.6" font-size="9.2" textLength="16.69" lengthAdjust="spacingAndGlyphs">500</text>
<text x="648.33" y="300.6" font-size="9.2" textLength="18.61" lengthAdjust="spacingAndGlyphs">GeV</text>
<path d="M514.3,310.9H533" stroke="#188c18" stroke-width="1.4"/>
<text x="539.45" y="313.9" font-size="9.2" textLength="69.39" lengthAdjust="spacingAndGlyphs">SM background</text>
<text x="493.59" y="491.5" font-size="11.2" font-style="italic" textLength="10.6" lengthAdjust="spacingAndGlyphs">m</text><text x="503.69" y="492.9" font-size="8" font-style="italic" textLength="7.89" lengthAdjust="spacingAndGlyphs">3ℓ</text><text x="511.74" y="491.5" font-size="10.5" textLength="5.06" lengthAdjust="spacingAndGlyphs">_</text><text x="517.09" y="491.5" font-size="10.5" textLength="16.3" lengthAdjust="spacingAndGlyphs">diff</text><text x="535.73" y="491.5" font-size="10.5" textLength="31.14" lengthAdjust="spacingAndGlyphs">[GeV]</text>
</svg>
</body></html>
